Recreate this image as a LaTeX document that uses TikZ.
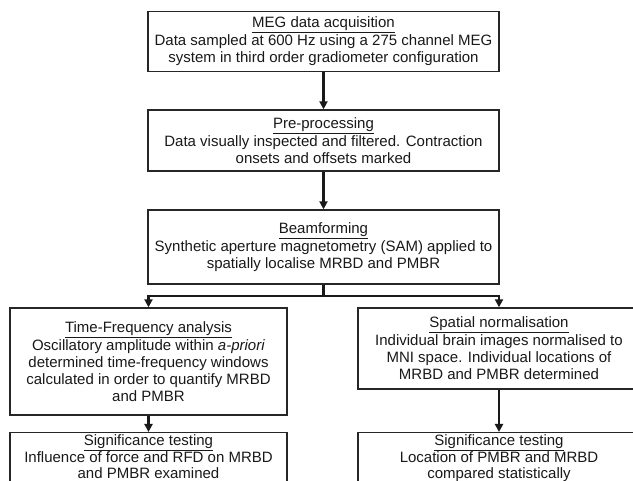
\documentclass[tikz,border=0pt]{standalone}
\usepackage{fontspec}
\setmainfont{Liberation Sans}
\usetikzlibrary{arrows.meta}
\tikzset{
  box/.style={draw=black!85, line width=1.4pt, fill=white, align=center, inner sep=0pt,
    font=\fontsize{15}{17}\selectfont, text=black!90},
  sig/.style={box, anchor=north, inner ysep=2pt, font=\fontsize{15}{16.5}\selectfont},
  arr/.style={line width=2.4pt, draw=black!90, -{Triangle[length=8pt,width=8pt]}},
  ln/.style={line width=2.4pt, draw=black!90}
}
\begin{document}
\begin{tikzpicture}[x=1pt,y=-1pt]
\useasboundingbox (0,0) rectangle (633,481);
\node[box, minimum width=351pt, minimum height=60pt] (b1) at (323.5,41.5)
  {\underline{MEG data acquisition}\\[1pt]Data sampled at 600 Hz using a 275 channel MEG\\system in third order gradiometer configuration};
\node[box, minimum width=351pt, minimum height=61pt] (b2) at (323.5,140.5)
  {\underline{Pre-processing}\\[1pt]Data visually inspected and filtered. Contraction\\onsets and offsets marked};
\node[box, minimum width=351pt, minimum height=74pt] (b3) at (323.5,247)
  {\underline{Beamforming}\\[1pt]Synthetic aperture magnetometry (SAM) applied to\\spatially localise MRBD and PMBR};
\node[box, minimum width=277pt, minimum height=107pt] (tf) at (148.5,361.5)
  {\underline{Time-Frequency analysis}\\[1pt]Oscillatory amplitude within \textit{a-priori}\\determined time-frequency windows\\calculated in order to quantify MRBD\\and PMBR};
\node[box, minimum width=282pt, minimum height=81pt] (sn) at (499,348.5)
  {\underline{Spatial normalisation}\\[1pt]Individual brain images normalised to\\MNI space. Individual locations of\\MRBD and PMBR determined};
\node[sig, minimum width=277pt] (s1) at (148.5,432)
  {\underline{Significance testing}\\Influence of force and RFD on MRBD\\and PMBR examined\\[10pt]};
\node[sig, minimum width=282pt] (s2) at (499,432)
  {\underline{Significance testing}\\Location of PMBR and MRBD\\compared statistically\\[10pt]};
\coordinate (j) at (323.5,296);
\draw[arr] (b1) -- (b2);
\draw[arr] (b2) -- (b3);
\draw[ln] (b3) -- (j);
\draw[arr] (j) -| (tf);
\draw[arr] (j) -| (sn);
\draw[arr] (tf) -- (s1);
\draw[arr] (sn) -- (s2);
\end{tikzpicture}
\end{document}
